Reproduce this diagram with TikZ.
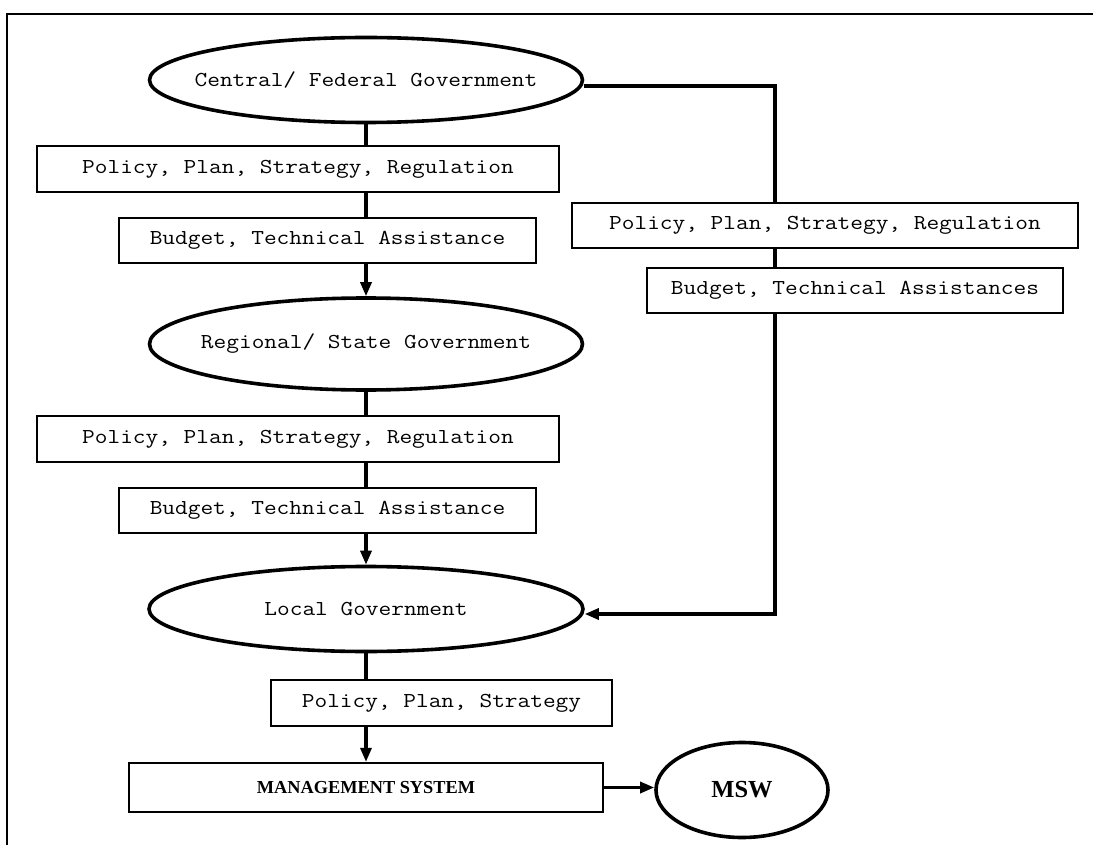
\documentclass[tikz,border=0pt]{standalone}
\usepackage{fontspec}
\setmainfont{Liberation Serif}
\setmonofont[FakeStretch=1.16]{Latin Modern Mono}
\usetikzlibrary{arrows.meta,shapes.geometric}
\pgfdeclarelayer{bg}
\pgfsetlayers{bg,main}

\begin{document}
\begin{tikzpicture}[x=1pt,y=-1pt,
  stepbox/.style={draw,line width=2.3pt,fill=white,inner sep=0pt,
    font=\fontsize{21.25}{24}\selectfont\ttfamily},
  gov/.style={draw,ellipse,line width=3.6pt,fill=white,inner sep=0pt,
    font=\fontsize{21.25}{24}\selectfont\ttfamily},
  conn/.style={line width=3.2pt},
  tip/.style={-{Triangle[length=14pt,width=11pt]}},
  frame/.style={line width=2pt}]
\useasboundingbox (0,0) rectangle (1093,845);

% outer frame (open at the right and bottom)
\draw[frame] (7,845) -- (7,14) -- (1093,14);

% government levels (text boxed at zero width so the ellipse keeps its size)
\node[gov,minimum width=433pt,minimum height=85pt] (central) at (366,80)
  {\makebox[0pt]{Central/ Federal Government}};
\node[gov,minimum width=433pt,minimum height=92pt] (regional) at (366,344)
  {\makebox[0pt]{Regional/ State Government}};
\node[gov,minimum width=434pt,minimum height=85pt] (local) at (366,609)
  {\makebox[0pt]{Local Government}};

% left column instruments
\node[stepbox,minimum width=522pt,minimum height=46pt] (pA) at (298,169) {Policy, Plan, Strategy, Regulation};
\node[stepbox,minimum width=417pt,minimum height=45pt] (bA) at (327.5,240.5) {Budget, Technical Assistance};
\node[stepbox,minimum width=522pt,minimum height=46pt] (pB) at (298,439) {Policy, Plan, Strategy, Regulation};
\node[stepbox,minimum width=417pt,minimum height=45pt] (bB) at (327.5,510.5) {Budget, Technical Assistance};

% right branch instruments
\node[stepbox,minimum width=506pt,minimum height=45pt] (pR) at (825,225.5) {Policy, Plan, Strategy, Regulation};
\node[stepbox,minimum width=416pt,minimum height=45pt] (bR) at (855,290.5) {Budget, Technical Assistances};

% local level and outcome
\node[stepbox,minimum width=341pt,minimum height=46pt] (pL) at (441.5,703) {Policy, Plan, Strategy};
\node[stepbox,minimum width=474pt,minimum height=49pt,
      font=\fontsize{18.3}{20}\selectfont\bfseries] (ms) at (366,787.5) {MANAGEMENT SYSTEM};
\node[gov,minimum width=172pt,minimum height=95pt,
      font=\fontsize{24.5}{26}\selectfont\bfseries] (msw) at (742,790) {MSW};

% routing points
\coordinate (col) at (366,0);
\coordinate (rtop) at (775,86);
\coordinate (rbot) at (775,614);

\begin{pgfonlayer}{bg}
  \draw[conn] (central.south) -- (col |- pA.north);
  \draw[conn] (col |- pA.south) -- (col |- bA.north);
  \draw[conn,tip] (col |- bA.south) -- (regional.north);
  \draw[conn] (regional.south) -- (col |- pB.north);
  \draw[conn] (col |- pB.south) -- (col |- bB.north);
  \draw[conn,tip] (col |- bB.south) -- (local.north);
  \draw[conn] (local.south) -- (col |- pL.north);
  \draw[conn,tip] (col |- pL.south) -- (col |- ms.north);
  \draw[conn,tip] (ms.east) -- (msw.west |- ms.east);
  \draw[conn,tip] (central.east |- rtop) -- (rtop) -- (rbot) -- (local.east |- rbot);
\end{pgfonlayer}
\end{tikzpicture}
\end{document}
